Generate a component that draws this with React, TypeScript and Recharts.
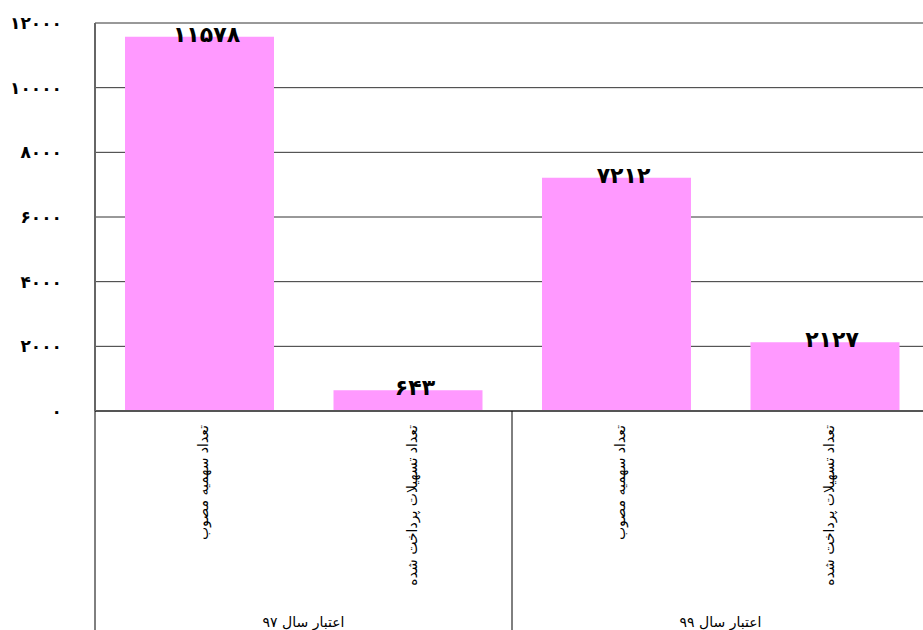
import React from 'react';
import { BarChart, Bar, XAxis, YAxis, CartesianGrid, LabelList } from 'recharts';

const categories = ['تعداد سهمیه مصوب', 'تعداد تسهیلات پرداخت شده', 'تعداد سهمیه مصوب', 'تعداد تسهیلات پرداخت شده'];
const groups = ['اعتبار سال ۹۷', 'اعتبار سال ۹۷', 'اعتبار سال ۹۹', 'اعتبار سال ۹۹'];
const values = [11578, 643, 7212, 2127];
const yTicks = [0, 2000, 4000, 6000, 8000, 10000, 12000];

const data = categories.map((c, i) => ({ key: String(i), name: c, group: groups[i], value: values[i] }));

const FONT = 'DejaVu Sans';

const toFa = (n: number | string) =>
  String(n).replace(/[0-9]/g, (d) => String.fromCharCode(0x06f0 + Number(d)));

const YTick = (props: any) => {
  const { x, y, payload } = props;
  return (
    <text x={x} y={y} textAnchor="end" dominantBaseline="central" fontFamily={FONT} fontWeight="bold" fontSize={17} fill="#000">
      {toFa(payload.value)}
    </text>
  );
};

const XTick = (props: any) => {
  const { x, y, payload, index } = props;
  const off = payload && typeof payload.offset === 'number' && payload.offset > 0 ? payload.offset : 104.25;
  const i = Number(index);
  return (
    <g>
      <text
        x={x + 4}
        y={y + 14}
        transform={`rotate(-90, ${x + 4}, ${y + 14})`}
        textAnchor="end"
        dominantBaseline="central"
        fontFamily={FONT}
        fontSize={14}
        fill="#000"
      >
        {categories[i]}
      </text>
      {i % 2 === 0 && (
        <g>
          <line x1={x - off} y1={y} x2={x - off} y2={y + 230} stroke="#000" strokeWidth={1} />
          <text x={x + off} y={y + 216} textAnchor="middle" fontFamily={FONT} fontSize={14} fill="#000">
            {groups[i]}
          </text>
        </g>
      )}
    </g>
  );
};

const ValueLabel = (props: any) => {
  const { x, y, width, value } = props;
  return (
    <text x={x + width / 2 + 7} y={y + 5} textAnchor="middle" fontFamily={FONT} fontWeight="bold" fontSize={22} fill="#000">
      {toFa(value)}
    </text>
  );
};

export default function App() {
  return (
    <div style={{ position: 'fixed', left: 0, top: 0, width: 923, height: 630, overflow: 'hidden', background: '#fff' }}>
      <BarChart
        width={935}
        height={630}
        data={data}
        margin={{ top: 23, right: 6, bottom: 0, left: 0 }}
      >
        <CartesianGrid vertical={false} stroke="#333" strokeWidth={1} />
        <XAxis
          dataKey="key"
          type="category"
          height={219}
          tickLine={false}
          tickSize={0}
          tickMargin={0}
          interval={0}
          axisLine={{ stroke: '#555', strokeWidth: 2 }}
          tick={<XTick />}
        />
        <YAxis
          width={95}
          domain={[0, 12000]}
          ticks={yTicks}
          interval={0}
          tickLine={false}
          tickSize={0}
          tickMargin={33}
          axisLine={{ stroke: '#666', strokeWidth: 2 }}
          tick={<YTick />}
        />
        <Bar dataKey="value" fill="#FF99FF" barSize={149} isAnimationActive={false}>
          <LabelList dataKey="value" content={<ValueLabel />} />
        </Bar>
      </BarChart>
    </div>
  );
}
